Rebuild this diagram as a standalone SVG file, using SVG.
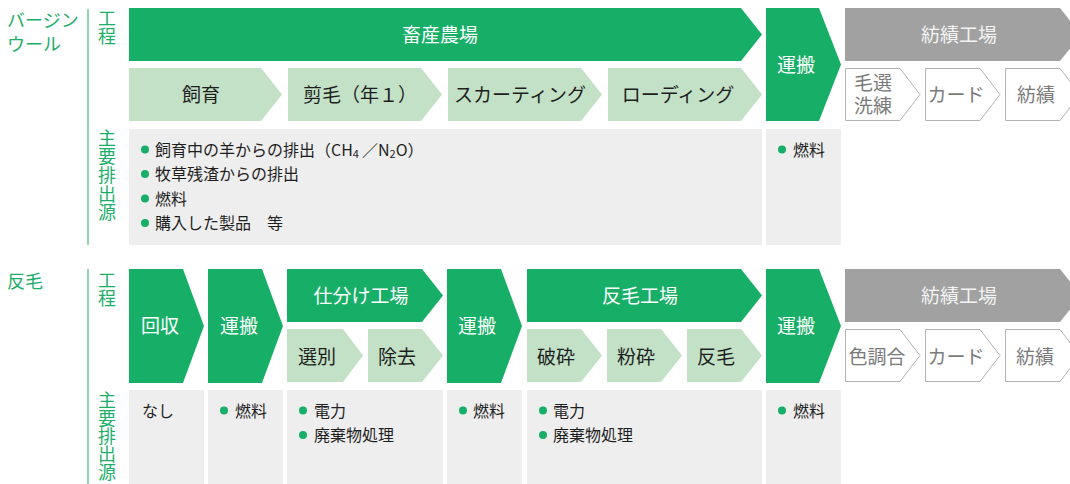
<svg xmlns="http://www.w3.org/2000/svg" width="1070" height="484" viewBox="0 0 1070 484">
<style>
text{font-family:"Noto Sans CJK JP","Noto Sans",sans-serif;}
.g{fill:#17af67;}
.lg{fill:#c2e1c6;}
.gr{fill:#a0a1a0;}
.em{fill:#eeeeee;}
.ol{fill:#ffffff;stroke:#b4b4b4;stroke-width:1;}
.wt{fill:#ffffff;font-size:19px;text-anchor:middle;}
.bt{fill:#1e1e1e;font-size:19px;text-anchor:middle;}
.ot{fill:#7a7a7a;font-size:19px;text-anchor:middle;}
.gt{fill:#f4f4f4;font-size:19px;text-anchor:middle;}
.lab{fill:#1dae6a;font-size:18px;}
.vl{fill:#1dae6a;font-size:18px;writing-mode:vertical-rl;}
.et{fill:#1e1e1e;font-size:16px;}
.dot{fill:#17af67;}
.line{stroke:#6cc896;stroke-width:1.5;fill:none;}
</style>
<g id="labels">
<text class="lab" x="7" y="27">バージン</text>
<text class="lab" x="7" y="51">ウール</text>
<text class="lab" x="7" y="288">反毛</text>
<line class="line" x1="88" y1="9" x2="88" y2="245"/>
<line class="line" x1="88" y1="269" x2="88" y2="484"/>
<text class="vl" x="107" y="9">工程</text>
<text class="vl" x="107" y="129" letter-spacing="0.6">主要排出源</text>
<text class="vl" x="107" y="271">工程</text>
<text class="vl" x="107" y="391">主要排出源</text>
</g>
<g id="connectors"></g>
<!-- Virgin wool row -->
<g id="v-farm"><polygon class="g" points="129,8 741,8 762,34.5 741,61 129,61"/><text class="wt" x="440" y="41.5">畜産農場</text></g>
<g id="v-feed"><polygon class="lg" points="129,68 261,68 282,94.5 261,121 129,121"/><text class="bt" x="201" y="101.5">飼育</text></g>
<g id="v-shear"><polygon class="lg" points="288,68 421,68 442,94.5 421,121 288,121"/><text class="bt" x="360" y="101.5">剪毛（年１）</text></g>
<g id="v-skirt"><polygon class="lg" points="448,68 581,68 602,94.5 581,121 448,121"/><text class="bt" x="520" y="101.5">スカーティング</text></g>
<g id="v-load"><polygon class="lg" points="608,68 741,68 762,94.5 741,121 608,121"/><text class="bt" x="678" y="101.5">ローディング</text></g>
<g id="v-transport"><polygon class="g" points="766,8 819,8 841,64.5 819,121 766,121"/><text class="wt" x="796" y="71.5">運搬</text></g>
<g id="v-spin"><polygon class="gr" points="845,8 1060,8 1081,34.5 1060,61 845,61"/><text class="gt" x="959" y="41.5">紡績工場</text></g>
<g id="v-scour"><polygon class="ol" points="845.5,68.5 900,68.5 920,94.5 900,120.5 845.5,120.5"/><text class="ot"><tspan x="873" y="89.5">毛選</tspan><tspan x="873" y="112.5">洗練</tspan></text></g>
<g id="v-card"><polygon class="ol" points="925.5,68.5 980,68.5 1000,94.5 980,120.5 925.5,120.5"/><text class="ot" x="956" y="101.5">カード</text></g>
<g id="v-spinning"><polygon class="ol" points="1005.5,68.5 1060,68.5 1080,94.5 1060,120.5 1005.5,120.5"/><text class="ot" x="1036" y="101.5">紡績</text></g>
<g id="v-em-farm"><rect class="em" x="129" y="129" width="633" height="116"/>
<circle class="dot" cx="145" cy="149.5" r="4"/><text class="et" x="155" y="155.5">飼育中の羊からの排出（CH<tspan font-size="11" dy="2">4</tspan><tspan dy="-2" dx="3">／N</tspan><tspan font-size="11" dy="2">2</tspan><tspan dy="-2">O）</tspan></text>
<circle class="dot" cx="145" cy="174" r="4"/><text class="et" x="155" y="180">牧草残渣からの排出</text>
<circle class="dot" cx="145" cy="198.5" r="4"/><text class="et" x="155" y="204.5">燃料</text>
<circle class="dot" cx="145" cy="223" r="4"/><text class="et" x="155" y="229">購入した製品　等</text>
</g>
<g id="v-em-transport"><rect class="em" x="766" y="129" width="75" height="116"/><circle class="dot" cx="782" cy="149.5" r="4"/><text class="et" x="793" y="155.5">燃料</text></g>
<!-- Recycled wool row -->
<g id="r-collect"><polygon class="g" points="129,269 183,269 204,326 183,383 129,383"/><text class="wt" x="160" y="332.5">回収</text></g>
<g id="r-transport1"><polygon class="g" points="208,269 262,269 283,326 262,383 208,383"/><text class="wt" x="239" y="332.5">運搬</text></g>
<g id="r-sort"><polygon class="g" points="287,269 422,269 443,295.5 422,322 287,322"/><text class="wt" x="361" y="302.5">仕分け工場</text></g>
<g id="r-select"><polygon class="lg" points="287,329 343,329 363,355.5 343,382 287,382"/><text class="bt" x="317" y="363.5">選別</text></g>
<g id="r-remove"><polygon class="lg" points="368,329 422,329 443,355.5 422,382 368,382"/><text class="bt" x="397" y="363.5">除去</text></g>
<g id="r-transport2"><polygon class="g" points="447,269 501,269 522,326 501,383 447,383"/><text class="wt" x="477" y="332.5">運搬</text></g>
<g id="r-factory"><polygon class="g" points="527,269 741,269 762,295.5 741,322 527,322"/><text class="wt" x="640" y="302.5">反毛工場</text></g>
<g id="r-crush"><polygon class="lg" points="527,329 581,329 602,355.5 581,382 527,382"/><text class="bt" x="556" y="363.5">破砕</text></g>
<g id="r-grind"><polygon class="lg" points="607,329 661,329 682,355.5 661,382 607,382"/><text class="bt" x="636" y="363.5">粉砕</text></g>
<g id="r-shoddy"><polygon class="lg" points="687,329 741,329 762,355.5 741,382 687,382"/><text class="bt" x="716" y="363.5">反毛</text></g>
<g id="r-transport3"><polygon class="g" points="766,269 819,269 841,326 819,383 766,383"/><text class="wt" x="796" y="332.5">運搬</text></g>
<g id="r-spin"><polygon class="gr" points="845,269 1060,269 1081,295.5 1060,322 845,322"/><text class="gt" x="959" y="302.5">紡績工場</text></g>
<g id="r-color"><polygon class="ol" points="845.5,329.5 900,329.5 920,355.5 900,381.5 845.5,381.5"/><text class="ot" x="877" y="363.5">色調合</text></g>
<g id="r-card"><polygon class="ol" points="925.5,329.5 980,329.5 1000,355.5 980,381.5 925.5,381.5"/><text class="ot" x="956" y="363.5">カード</text></g>
<g id="r-spinning"><polygon class="ol" points="1005.5,329.5 1060,329.5 1080,355.5 1060,381.5 1005.5,381.5"/><text class="ot" x="1035" y="363.5">紡績</text></g>
<g id="r-em-collect"><rect class="em" x="129" y="390" width="75" height="94"/><text class="et" x="142" y="416.5">なし</text></g>
<g id="r-em-transport1"><rect class="em" x="208" y="390" width="75" height="94"/><circle class="dot" cx="224" cy="410.5" r="4"/><text class="et" x="235" y="416.5">燃料</text></g>
<g id="r-em-sort"><rect class="em" x="287" y="390" width="156" height="94"/><circle class="dot" cx="303" cy="410.5" r="4"/><text class="et" x="314" y="416.5">電力</text><circle class="dot" cx="303" cy="435" r="4"/><text class="et" x="314" y="441">廃棄物処理</text></g>
<g id="r-em-transport2"><rect class="em" x="447" y="390" width="75" height="94"/><circle class="dot" cx="463" cy="410.5" r="4"/><text class="et" x="473" y="416.5">燃料</text></g>
<g id="r-em-factory"><rect class="em" x="527" y="390" width="235" height="94"/><circle class="dot" cx="543" cy="410.5" r="4"/><text class="et" x="553" y="416.5">電力</text><circle class="dot" cx="543" cy="435" r="4"/><text class="et" x="553" y="441">廃棄物処理</text></g>
<g id="r-em-transport3"><rect class="em" x="766" y="390" width="75" height="94"/><circle class="dot" cx="782" cy="410.5" r="4"/><text class="et" x="793" y="416.5">燃料</text></g>
</svg>
